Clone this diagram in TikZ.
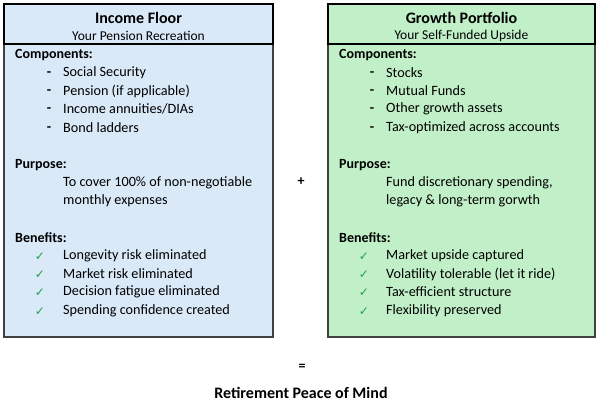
\documentclass[tikz,border=0pt]{standalone}
\usepackage{fontspec}
\setmainfont{Carlito}
\newfontfamily\symfont{DejaVu Sans}
\definecolor{floorfill}{HTML}{DAE9F8}
\definecolor{growfill}{HTML}{C1F0C8}
\definecolor{checkgreen}{HTML}{21A348}
\definecolor{edgegray}{HTML}{404040}
\begin{document}
\begin{tikzpicture}[x=1pt,y=-1pt,
  panel/.style={draw=edgegray,line width=1.3pt},
  hdr/.style={draw=black,line width=1.3pt},
  ttl/.style={font=\fontsize{16}{18}\selectfont\bfseries,anchor=center},
  sub/.style={font=\fontsize{13.5}{15}\selectfont,anchor=center},
  lbl/.style={font=\fontsize{14}{16}\selectfont\bfseries,anchor=west,inner sep=0pt},
  txt/.style={font=\fontsize{14.2}{16}\selectfont,anchor=west,inner sep=0pt},
  chk/.style={font=\fontsize{12}{13}\selectfont\symfont,text=checkgreen,anchor=center,inner sep=0pt},
  dsh/.style={font=\fontsize{14.2}{16}\selectfont\bfseries,anchor=center,inner sep=0pt}]
\useasboundingbox (0,0) rectangle (600,408);
% left panel
\filldraw[fill=floorfill,panel] (4,4) rectangle (273,337);
\draw[hdr] (4,4) rectangle (273,44);
\node[ttl] (lt) at (138.5,18) {Income Floor};
\node[sub] (ls) at (138.5,36) {Your Pension Recreation};
\node[lbl] (lc) at (15,55) {Components:};
\foreach \t/\y [count=\i] in {{Social Security}/73,{Pension (if applicable)}/91,{Income annuities/DIAs}/109,{Bond ladders}/128}{
  \node[dsh] (ld\i) at (49,\y) {\vphantom{Ag}-};
  \node[txt] (li\i) at (63,\y) {\t};
}
\node[lbl] (lp) at (15,165) {Purpose:};
\node[txt] (lp1) at (63,183) {To cover 100\% of non-negotiable};
\node[txt] (lp2) at (63,201) {monthly expenses};
\node[lbl] (lb) at (15,238) {Benefits:};
\foreach \t/\y [count=\i] in {{Longevity risk eliminated}/256,{Market risk eliminated}/274,{Decision fatigue eliminated}/292,{Spending confidence created}/311}{
  \node[chk] (lk\i) at (40,\y+1) {✓};
  \node[txt] (lb\i) at (63,\y) {\t};
}
% right panel
\filldraw[fill=growfill,panel] (328,4) rectangle (595,337);
\draw[hdr] (328,4) rectangle (595,44);
\node[ttl] (rt) at (461.5,18) {Growth Portfolio};
\node[sub] (rs) at (461.5,36) {Your Self-Funded Upside};
\node[lbl] (rc) at (339,55) {Components:};
\foreach \t/\y [count=\i] in {{Stocks}/73,{Mutual Funds}/91,{Other growth assets}/109,{Tax-optimized across accounts}/128}{
  \node[dsh] (rd\i) at (372,\y) {\vphantom{Ag}-};
  \node[txt] (ri\i) at (386,\y) {\t};
}
\node[lbl] (rp) at (339,165) {Purpose:};
\node[txt] (rp1) at (386,183) {Fund discretionary spending,};
\node[txt] (rp2) at (386,201) {legacy \& long-term gorwth};
\node[lbl] (rb) at (339,238) {Benefits:};
\foreach \t/\y [count=\i] in {{Market upside captured}/256,{Volatility tolerable (let it ride)}/274,{Tax-efficient structure}/292,{Flexibility preserved}/311}{
  \node[chk] (rk\i) at (364,\y+1) {✓};
  \node[txt] (rb\i) at (386,\y) {\t};
}
% operators and result
\node[font=\fontsize{14}{16}\selectfont\bfseries] (plus) at (301,182) {+};
\node[font=\fontsize{14}{16}\selectfont\bfseries] (eq) at (302,367) {=};
\node[font=\fontsize{16}{18}\selectfont\bfseries] (res) at (301,393) {Retirement Peace of Mind};
\end{tikzpicture}
\end{document}
